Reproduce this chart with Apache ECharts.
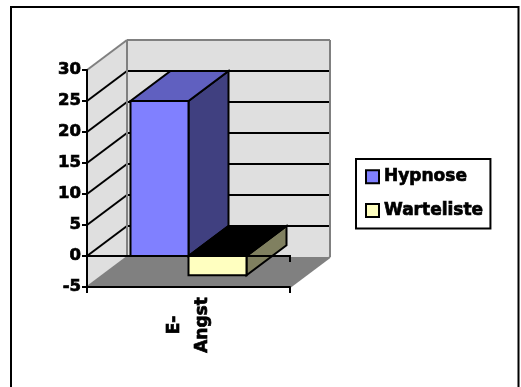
<!DOCTYPE html>
<html>
<head>
<meta charset="utf-8">
<script src="https://cdn.jsdelivr.net/npm/echarts@6/dist/echarts.min.js"></script>
<style>
  html, body { margin: 0; padding: 0; background: #fff; }
  #chart { width: 521px; height: 387px; }
</style>
</head>
<body>
<div id="chart"></div>
<script>
// Chart data
const categories = ['E-\nAngst'];
const seriesNames = ['Hypnose', 'Warteliste'];
const hypnoseValues = [25];
const wartelisteValues = [-3.1];
const yTickValues = [-5, 0, 5, 10, 15, 20, 25, 30];

const Y_MIN = yTickValues[0];
const Y_MAX = yTickValues[yTickValues.length - 1];
const Y_STEP = yTickValues[1] - yTickValues[0];

// Oblique projection of the depth axis (pixels)
const DEPTH = [40, -30];
const FONT = 'DejaVu Sans';
// slightly heavier strokes for the bold labels
const HEAVY = { textBorderColor: '#000', textBorderWidth: 0.7 };

const faces = {
  Hypnose:    { front: '#8080FF', top: '#6060C0', side: '#404080' },
  Warteliste: { front: '#FFFFC0', top: '#000000', side: '#808060' }
};

function poly(points, fill, stroke, lw) {
  return {
    type: 'polygon',
    shape: { points: points },
    style: { fill: fill, stroke: stroke || null, lineWidth: lw || 0, lineJoin: 'miter' }
  };
}
function seg(p, q, color, lw) {
  return {
    type: 'line',
    shape: { x1: p[0], y1: p[1], x2: q[0], y2: q[1] },
    style: { stroke: color, lineWidth: lw }
  };
}
function back(p) { return [p[0] + DEPTH[0], p[1] + DEPTH[1]]; }

// Walls, floor and gridlines of the 3D box
function renderFrame(params, api) {
  const cs = params.coordSys;
  const L = cs.x, R = cs.x + cs.width;
  const yAt = v => api.coord([0, v])[1];
  const yTop = yAt(Y_MAX), yBot = yAt(Y_MIN);
  const kids = [];
  // back wall
  kids.push(poly([back([L, yTop]), back([R, yTop]), back([R, yBot]), back([L, yBot])], '#DFDFDF'));
  // side wall
  kids.push(poly([[L, yTop], back([L, yTop]), back([L, yBot]), [L, yBot]], '#DFDFDF'));
  // floor
  kids.push(poly([[L, yBot], [R, yBot], back([R, yBot]), back([L, yBot])], '#808080'));
  // gridlines on walls
  yTickValues.forEach(v => {
    if (v === Y_MIN || v === Y_MAX) return;
    const y = yAt(v);
    kids.push(seg([L, y], back([L, y]), '#000', 2));
    kids.push(seg(back([L, y]), back([R, y]), '#000', 2));
  });
  // wall edges
  const edge = '#808080';
  kids.push(seg([L, yTop], back([L, yTop]), edge, 2));
  kids.push(seg(back([L, yTop]), back([R, yTop]), edge, 2));
  kids.push(seg(back([L, yTop]), back([L, yBot]), edge, 2));
  kids.push(seg(back([R, yTop]), back([R, yBot]), edge, 2));
  kids.push(seg([L, yBot], back([L, yBot]), edge, 2));
  kids.push(seg([R, yBot], back([R, yBot]), edge, 2));
  return { type: 'group', children: kids };
}

// A 3D column: side, top and front faces
function makeBarRenderer(seriesIndex, name) {
  return function (params, api) {
    const cat = api.value(0), val = api.value(1);
    const band = api.size([1, 0])[0];
    const bw = band * 0.2857;
    const cx = api.coord([cat, 0])[0];
    const x0 = cx + (seriesIndex - 1) * bw;
    const x1 = x0 + bw;
    const y0 = api.coord([cat, 0])[1];
    const yv = api.coord([cat, val])[1];
    const yHi = Math.min(y0, yv), yLo = Math.max(y0, yv);
    const f = faces[name];
    return {
      type: 'group',
      children: [
        poly([[x1, yHi], back([x1, yHi]), back([x1, yLo]), [x1, yLo]], f.side, '#000', 2),
        poly([[x0, yHi], [x1, yHi], back([x1, yHi]), back([x0, yHi])], f.top, '#000', 2),
        poly([[x0, yHi], [x1, yHi], [x1, yLo], [x0, yLo]], f.front, '#000', 2)
      ]
    };
  };
}

// Zero baseline across the front plane
function renderZero(params, api) {
  const cs = params.coordSys;
  const L = cs.x, R = cs.x + cs.width;
  const y0 = api.coord([0, 0])[1];
  return {
    type: 'group',
    children: [
      seg([L, y0], [R + 1, y0], '#000', 2),
      seg([R, y0], [R, y0 + 6], '#000', 2)
    ]
  };
}

const chart = echarts.init(document.getElementById('chart'), null, { renderer: 'canvas' });

const seriesData = [hypnoseValues, wartelisteValues];

chart.setOption({
  backgroundColor: '#fff',
  animation: false,
  graphic: [{
    type: 'rect',
    shape: { x: 11, y: 7, width: 507.5, height: 400 },
    style: { fill: 'none', stroke: '#000', lineWidth: 2 },
    z: 100
  }],
  grid: { left: 87, top: 70, width: 203, height: 217, containLabel: false },
  xAxis: {
    type: 'category',
    data: categories,
    z: 10,
    axisLine: { onZero: false, lineStyle: { color: '#000', width: 2 } },
    axisTick: { show: true, length: 6, lineStyle: { color: '#000', width: 2 } },
    axisLabel: Object.assign({
      rotate: 90,
      align: 'center',
      verticalAlign: 'middle',
      margin: 38,
      color: '#000',
      fontFamily: FONT,
      fontWeight: 'bold',
      fontSize: 17,
      lineHeight: 28
    }, HEAVY),
    splitLine: { show: false }
  },
  yAxis: {
    type: 'value',
    min: Y_MIN,
    max: Y_MAX,
    interval: Y_STEP,
    z: 10,
    axisLine: { show: true, lineStyle: { color: '#000', width: 2 } },
    axisTick: { show: true, length: 5, lineStyle: { color: '#000', width: 2 } },
    axisLabel: Object.assign({
      margin: 6,
      color: '#000',
      fontFamily: FONT,
      fontWeight: 'bold',
      fontSize: 16.5
    }, HEAVY),
    splitLine: { show: false }
  },
  legend: {
    orient: 'vertical',
    left: 356,
    top: 159,
    padding: [9, 7, 9, 9],
    itemGap: 16,
    itemWidth: 13,
    itemHeight: 13,
    icon: 'rect',
    borderColor: '#000',
    borderWidth: 2,
    backgroundColor: '#fff',
    textStyle: Object.assign({ color: '#000', fontFamily: FONT, fontWeight: 'bold', fontSize: 17 }, HEAVY),
    data: seriesNames.map(n => ({
      name: n,
      itemStyle: { color: faces[n].front, borderColor: '#000', borderWidth: 2 }
    }))
  },
  series: [
    {
      type: 'custom',
      name: 'frame',
      z: 1,
      silent: true,
      renderItem: renderFrame,
      data: [[0, 0]],
      encode: { x: 0, y: 1 }
    }
  ].concat(seriesNames.map((n, i) => ({
    type: 'custom',
    name: n,
    z: 3 + i,
    itemStyle: { color: faces[n].front, borderColor: '#000', borderWidth: 2 },
    renderItem: makeBarRenderer(i, n),
    data: seriesData[i].map((v, k) => [k, v]),
    encode: { x: 0, y: 1 }
  }))).concat([{
    type: 'custom',
    name: 'zero',
    z: 8,
    silent: true,
    renderItem: renderZero,
    data: [[0, 0]],
    encode: { x: 0, y: 1 }
  }])
});
</script>
</body>
</html>
